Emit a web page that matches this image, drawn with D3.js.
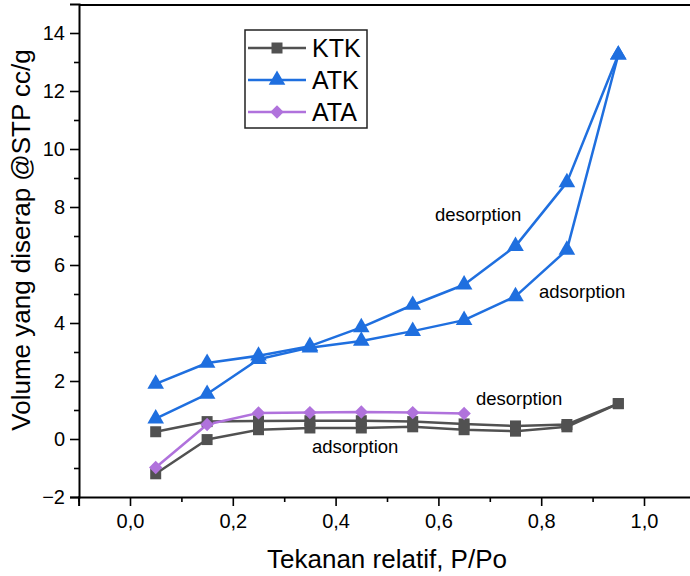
<!DOCTYPE html>
<html><head><meta charset="utf-8">
<script src="https://cdn.jsdelivr.net/npm/d3@7"></script>
<style>body{margin:0;background:#fff;} svg{display:block;font-family:"Liberation Sans",Arial,sans-serif;}</style>
</head><body><svg id="c" width="690" height="576"></svg>
<script>
const pressure = [0.05,0.15,0.25,0.35,0.45,0.55,0.65,0.75,0.85,0.95];
const ktkAds = [-1.2,-0.02,0.32,0.38,0.38,0.42,0.32,0.27,0.42,1.22];
const ktkDes = [0.25,0.60,0.62,0.63,0.63,0.60,0.52,0.45,0.50,1.22];
const atkAds = [0.70,1.55,2.75,3.15,3.38,3.72,4.10,4.92,6.52,13.25];
const atkDes = [1.90,2.62,2.87,3.20,3.85,4.62,5.32,6.65,8.85,13.25];
const ataPressure = [0.05,0.15,0.25,0.35,0.45,0.55,0.65];
const ataVals = [-0.98,0.50,0.90,0.91,0.93,0.91,0.88];
const xTicks = [0,0.2,0.4,0.6,0.8,1.0];
const yTicks = [-2,0,2,4,6,8,10,12,14];
const seriesNames = ["KTK","ATK","ATA"];
const colors = {KTK:"#515151", ATK:"#1f6fdf", ATA:"#b072dc"};

const svg = d3.select("#c");
const x = d3.scaleLinear().domain([-0.1,1.1]).range([78.6,695.4]);
const y = d3.scaleLinear().domain([-2,15]).range([497,4]);

const fmt = d => d3.format(".1f")(d).replace(".",",");
const xAxis = d3.axisBottom(x).tickValues(xTicks).tickFormat(fmt).tickSize(9).tickPadding(8);
const xMinor = d3.axisBottom(x).tickValues(d3.range(-0.1,1.101,0.1).filter(v=>Math.abs(Math.round(v*10)%2)===1)).tickFormat("").tickSize(5);
const yAxis = d3.axisLeft(y).tickValues(yTicks).tickFormat(d=>d<0?"\u2212"+Math.abs(d):d).tickSize(9).tickPadding(5);
const yMinor = d3.axisLeft(y).tickValues(d3.range(-1,15,2)).tickFormat("").tickSize(5);

function style(g){ g.select(".domain").attr("stroke","#000").attr("stroke-width",2);
  g.selectAll(".tick line").attr("stroke","#000").attr("stroke-width",1.6);
  g.selectAll("text").attr("font-size",20).attr("fill","#000").attr("font-family","Liberation Sans, Arial, sans-serif"); }
svg.append("g").attr("transform","translate(0,497)").call(xMinor).call(style).select(".domain").remove();
svg.append("g").attr("transform","translate(0,497)").call(xAxis).call(style);
svg.append("g").attr("transform","translate(79,0)").call(yMinor).call(style).select(".domain").remove();
svg.append("g").attr("transform","translate(79,0)").call(yAxis).call(style);
svg.append("line").attr("x1",79).attr("x2",690).attr("y1",5).attr("y2",5).attr("stroke","#000").attr("stroke-width",2);

svg.append("text").attr("x",387).attr("y",568).attr("text-anchor","middle").attr("font-size",26).text("Tekanan relatif, P/Po");
svg.append("text").attr("transform","translate(30,240) rotate(-90)").attr("text-anchor","middle").attr("font-size",26).text("Volume yang diserap @STP cc/g");

const line = d3.line().x(d=>x(d[0])).y(d=>y(d[1]));
function drawLine(xs, ys, c){
  svg.append("path").datum(xs.map((v,i)=>[v,ys[i]])).attr("d",line).attr("fill","none").attr("stroke",c).attr("stroke-width",2.5).attr("stroke-linejoin","round");
}
const sym = {KTK:d3.symbolSquare, ATK:d3.symbolTriangle, ATA:d3.symbolSquare};
const symSize = {KTK:121, ATK:120, ATA:90};
const symRot = {KTK:0, ATK:0, ATA:45};
function drawMarks(xs, ys, name){
  svg.append("g").selectAll("path").data(xs.map((v,i)=>[v,ys[i]])).join("path")
    .attr("transform",d=>`translate(${x(d[0])},${y(d[1])}) rotate(${symRot[name]})`)
    .attr("d",d3.symbol(sym[name], symSize[name])).attr("fill",colors[name]);
}
drawLine(pressure, ktkAds, colors.KTK); drawLine(pressure, ktkDes, colors.KTK);
drawLine(pressure, atkAds, colors.ATK); drawLine(pressure, atkDes, colors.ATK);
drawLine(ataPressure, ataVals, colors.ATA);
drawMarks(pressure, ktkAds, "KTK"); drawMarks(pressure, ktkDes, "KTK");
drawMarks(pressure, atkAds, "ATK"); drawMarks(pressure, atkDes, "ATK");
drawMarks(ataPressure, ataVals, "ATA");

const ann = [["desorption",435,221],["adsorption",539,298],["desorption",476,405],["adsorption",312,453]];
ann.forEach(a=>svg.append("text").attr("x",a[1]).attr("y",a[2]).attr("font-size",18.5).text(a[0]));

const lg = svg.append("g");
lg.append("rect").attr("x",245).attr("y",30).attr("width",122).attr("height",98).attr("fill","#fff").attr("stroke","#222").attr("stroke-width",1.5);
seriesNames.forEach((n,i)=>{
  const yy = 48 + i*32;
  lg.append("line").attr("x1",248).attr("x2",306).attr("y1",yy).attr("y2",yy).attr("stroke",colors[n]).attr("stroke-width",2.5);
  lg.append("path").attr("transform",`translate(277,${yy}) rotate(${symRot[n]})`).attr("d",d3.symbol(sym[n],symSize[n])).attr("fill",colors[n]);
  lg.append("text").attr("x",312).attr("y",yy+9).attr("font-size",25).text(n);
});
</script></body></html>
